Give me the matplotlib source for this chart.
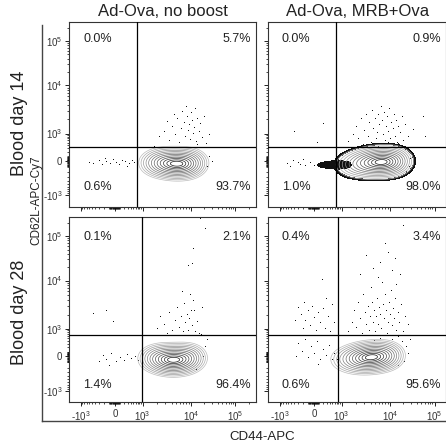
import numpy as np
import matplotlib
matplotlib.use("Agg")
import matplotlib.pyplot as plt
from matplotlib.lines import Line2D
from matplotlib.ticker import FixedLocator, FixedFormatter, NullFormatter

plt.rcParams['font.family'] = ['Liberation Sans', 'DejaVu Sans']
plt.rcParams['mathtext.fontset'] = 'custom'
plt.rcParams['mathtext.rm'] = 'Liberation Sans'
plt.rcParams['mathtext.default'] = 'regular'

# ---- data -------------------------------------------------------------
COLUMNS = ["Ad-Ova, no boost", "Ad-Ova, MRB+Ova"]
ROWS = ["Blood day 14", "Blood day 28"]
XLABEL = "CD44-APC"
YLABEL = "CD62L-APC-Cy7"

MAJOR_VALS = [-1e3, 0, 1e3, 1e4, 1e5]
MAJOR_LABELS = ["-$10^3$", "0", "$10^3$", "$10^4$", "$10^5$"]

# quadrant gates (CD44, CD62L) and frequencies: TL, TR, BL, BR panels
GATE_X = [680, 650, 950, 800]
GATE_Y = [340, 340, 620, 620]
Q_UL = ["0.0%", "0.0%", "0.1%", "0.4%"]
Q_UR = ["5.7%", "0.9%", "2.1%", "3.4%"]
Q_LL = ["0.6%", "1.0%", "1.4%", "0.6%"]
Q_LR = ["93.7%", "98.0%", "96.4%", "95.6%"]

# main population ridge (CD44, CD62L, relative weight)
TL_CORE_X = [1730, 2780, 4460, 7180, 10000]
TL_CORE_Y = [-33, -33, -50, -50, -33]
TL_CORE_W = [0.3, 0.8, 1.0, 0.9, 0.5]
TR_CORE_X = [1360, 2190, 3520, 5660, 9100, 13600]
TR_CORE_Y = [-67, -50, -33, -17, -17, 0]
TR_CORE_W = [0.15, 0.35, 0.7, 1.0, 0.9, 0.5]
BL_CORE_X = [1730, 2780, 4460, 7180, 9540]
BL_CORE_Y = [-33, -50, -67, -50, -17]
BL_CORE_W = [0.35, 0.85, 1.0, 0.7, 0.4]
BR_CORE_X = [890, 1500, 2410, 3870, 6220, 9100]
BR_CORE_Y = [-50, -50, -33, -17, 0, 21]
BR_CORE_W = [0.08, 0.3, 0.75, 1.0, 0.8, 0.45]

# dense tail of events running into the MRB+Ova day 14 population
TR_TAIL_X = [40, 200, 400, 665, 1000, 1360]
TR_TAIL_Y = [-67, -67, -67, -67, -67, -60]
TR_TAIL_W = [0.55, 0.7, 0.85, 1.0, 1.0, 0.9]

# outlying events
TL_DOT_X = [2190, 2780, 3520, 4060, 4680, 5150, 5660, 6220, 6520, 7180,
            7520, 7890, 8280, 8680, 9100, 9540, 10000, 10500, 10900, 11700,
            12300, 12950, 13600, 15100, 15900, 17700, 19600, 21700, 4460, 3200,
            25400, 13600, 25400, 29700, 22800, 1730, 16800,
            -600, -465, -300, -240, -150, -85, -33, 21, 85, 150,
            225, 340, 450, 525, 280, -175]
TL_DOT_Y = [770, 1070, 570, 1360, 890, 1990, 480, 1240, 2780, 1650,
            770, 3520, 2190, 1130, 1500, 615, 2650, 1810, 970, 1300,
            3200, 525, 1990, 1070, 1580, 715, 2190, 450, 2410, 1730,
            890, 410, 85, -17, -100, 340, 300,
            -33, -50, 0, -67, -17, -50, 21, -33, -67, 0,
            -17, -50, 0, -33, -100, 42]

TR_DOT_X = [1360, 1730, 1990, 2190, 2530, 2780, 2910, 3200, 3520, 3690,
            4060, 4260, 4460, 4910, 5150, 5400, 5660, 5930, 6220, 6520,
            6840, 7180, 7520, 7890, 8280, 8680, 9100, 9540, 10000, 10500,
            10900, 11700, 12300, 12950, 13600, 14300, 15100, 16800, 18600, 19600,
            21700, 25400, 32900, 55100, 60600, -410, 200, 60, -640,
            25400, 27800, 26500, 22800, 19600, 15100, 9100, -430, -300, -530, -195,
            3520, 4460, 5660, 7180, 9100, 11700, 15100, 17700,
            -250, -150, -60, 10]
TR_DOT_Y = [525, 890, 1360, 665, 1990, 410, 1130, 2410, 770, 1650,
            480, 2910, 1240, 1990, 665, 1010, 2410, 1500, 450, 3520,
            1810, 890, 2650, 570, 1360, 2190, 1070, 3200, 665, 1650,
            410, 1240, 2410, 770, 1810, 480, 1360, 1010, 2190, 570,
            1500, 770, 1180, 2190, 770, 1070, 1580, 480, -50,
            200, 40, -100, -195, -270, -330, -350, 0, -33, -100, 21,
            375, 450, 340, 410, 480, 375, 450, 340,
            -60, -90, -40, -80]

BL_DOT_X = [10900, 10400, 8680, 6450, 10900, 9900, 15900, 20600, -165, -465,
            -33, 2300, 2780, 3520, 4060, 4680, 5150, 5660, 6220, 6840,
            7180, 7520, 8280, 8680, 9100, 9540, 10500, 11700, 12300, 13600,
            15100, 3200, 1990, 17700, 20600, 18600, 12950, 22800, 16800,
            -220, -150, -67, 21, 100, 200, 280, 410, 570, 715, -300, -100]
BL_DOT_Y = [52400, 24100, 21700, 5800, 3870, 2410, 247000, 147000, 2410, 2090,
            1430, 1780, 1240, 2190, 890, 1500, 2780, 1070, 1810, 770,
            3350, 1360, 1990, 890, 1650, 5150, 1180, 2410, 770, 1430,
            665, 665, 1010, 2780, 200, -17, -240, 410, 615,
            0, -67, 42, -100, -33, -85, 21, -50, -17, -85, -100, -175]

BR_DOT_X = [1360, 1650, 1810, 1990, 2190, 2410, 2650, 2780, 3050, 3200,
            3520, 3690, 3870, 4060, 4260, 4460, 4680, 4910, 5150, 5400,
            5660, 5930, 6220, 6520, 6840, 7180, 7520, 7890, 8280, 8680,
            9100, 9540, 10000, 10500, 10900, 11700, 12300, 12950, 13600, 15100,
            15900, 17700, 19600, 21700, 25400, 13600, 5660,
            19600, 7890, 12950, 9100, 6220, 4460, 3200, 10900, 180, 2410, 16800,
            -300, -240, -175, -150, -100, -67, -33, 0, 42, 85,
            130, 200, 250, 340, 410, 480, 570, -195, -380, 280,
            -300, -220, -165, -100, -50, 0, 60, 130, 200, 280,
            375, 480, 570, 715, -350, 85,
            22800, 25400, 20600, 15100, 27800, 21700,
            6220, 8280, 10900, 15100, 18600, 4680]
BR_DOT_Y = [770, 1360, 2410, 1070, 3520, 1650, 665, 5150, 2190, 1240,
            2910, 890, 1810, 7180, 3520, 1360, 2410, 770, 1810, 4260,
            1240, 2780, 1990, 1010, 9100, 3200, 1650, 5150, 2410, 665,
            1360, 3520, 1990, 6220, 1130, 2650, 1650, 4260, 890, 2190,
            1360, 3200, 770, 1810, 1240, 8280, 11700,
            172000, 67600, 31200, 42500, 25400, 18600, 35000, 16800, 10500, 13600, 13600,
            2780, 1990, 3520, 1500, 2410, 1130, 2910, 1730, 890, 2190,
            1360, 2650, 1010, 1810, 770, 3200, 1360, 1010, 1500, 4260,
            300, 85, 410, -33, 200, 42, 340, -67, 130, 0,
            225, -67, 42, -67, -17, -150,
            200, 40, -100, -175, 410, 570,
            480, 570, 410, 525, 340, 375]

# ---- biexponential display scale --------------------------------------
W_LIN = 300.0
ANCHOR_VAL = np.array([-3000, -1000, 0, 1000, 1e4, 1e5, 1e6])
ANCHOR_DISP = np.array([-7.9, 11.5, 46, 73.5, 122, 166.5, 211])
ANCHOR_S = np.arcsinh(ANCHOR_VAL / W_LIN)


def to_disp(v):
    return np.interp(np.arcsinh(np.asarray(v, float) / W_LIN), ANCHOR_S, ANCHOR_DISP)


def from_disp(d):
    return W_LIN * np.sinh(np.interp(np.asarray(d, float), ANCHOR_DISP, ANCHOR_S))


def kde(xs, ys, ws, gx, gy, hx, hy):
    z = np.zeros_like(gx)
    for a, b, wt in zip(to_disp(xs), to_disp(ys), ws):
        z += wt * np.exp(-0.5 * (((gx - a) / hx) ** 2 + ((gy - b) / hy) ** 2))
    return z


MINOR_VALS = ([-v for v in range(100, 1000, 100)] + [-v for v in range(10, 100, 10)]
              + list(range(10, 100, 10)) + list(range(100, 1000, 100))
              + list(range(2000, 10000, 1000)) + list(range(20000, 100000, 10000)) + [200000])

# ---- figure ---------------------------------------------------------------
W_PX, H_PX = 446, 445
fig = plt.figure(figsize=(W_PX / 100, H_PX / 100), dpi=100)

# panel boxes in pixels: left, top, width, height
boxes = [(69, 21.7, 187, 185), (268, 21.7, 178, 185),
         (69, 216.7, 187, 185.6), (268, 216.7, 178, 185.6)]
cores = [(TL_CORE_X, TL_CORE_Y, TL_CORE_W), (TR_CORE_X, TR_CORE_Y, TR_CORE_W),
         (BL_CORE_X, BL_CORE_Y, BL_CORE_W), (BR_CORE_X, BR_CORE_Y, BR_CORE_W)]
dots = [(TL_DOT_X, TL_DOT_Y), (TR_DOT_X, TR_DOT_Y),
        (BL_DOT_X, BL_DOT_Y), (BR_DOT_X, BR_DOT_Y)]
text_y = [(0.906, 0.106), (0.906, 0.106), (0.892, 0.093), (0.892, 0.093)]

gd = np.linspace(0, 186, 373)
GX, GY = np.meshgrid(gd, gd)
XV, YV = from_disp(GX), from_disp(GY)
n_lev = 12
# evenly spaced rings: level fractions for radii 0.35..2.5 sigma
radii = np.linspace(2.5, 0.35, n_lev)
lev_frac = np.exp(-0.5 * radii ** 2)
line_cols = plt.cm.Greys(np.linspace(0.38, 0.92, n_lev))

for i, (l, t, w, h) in enumerate(boxes):
    ax = fig.add_axes([l / W_PX, 1 - (t + h) / H_PX, w / W_PX, h / H_PX])
    ax.set_xscale('function', functions=(to_disp, from_disp))
    ax.set_yscale('function', functions=(to_disp, from_disp))
    ax.set_xlim(from_disp(0), from_disp(w))
    ax.set_ylim(from_disp(0), from_disp(186))

    dx, dy = dots[i]
    ax.plot(dx, dy, ',', color='#111111', zorder=2)

    cx, cy, cw = cores[i]
    z = kde(cx, cy, cw, GX, GY, 9.0, 7.0)
    zmax = z.max()
    if i == 1:
        # dense outlier rim and tail of the MRB population
        ax.contourf(XV, YV, z, levels=[zmax * 0.028, zmax * lev_frac[0]],
                    colors=['#111111'], zorder=2)
        zt = kde(TR_TAIL_X, TR_TAIL_Y, TR_TAIL_W, GX, GY, 7.0, 3.5)
        ax.contourf(XV, YV, zt, levels=[1.3, zt.max() + 1],
                    colors=['#111111'], zorder=2)
    ax.contour(XV, YV, z, levels=zmax * lev_frac, colors=line_cols,
               linewidths=0.5, zorder=3)

    ax.axvline(GATE_X[i], color='k', lw=0.9, zorder=4)
    ax.axhline(GATE_Y[i], color='k', lw=0.9, zorder=4)

    xl = 14 / w
    xr = (w - 5) / w
    ty, by = text_y[i]
    kw = dict(transform=ax.transAxes, fontsize=9, color='#222222', va='center')
    ax.text(xl, ty, Q_UL[i], ha='left', **kw)
    ax.text(xr, ty, Q_UR[i], ha='right', **kw)
    ax.text(xl, by, Q_LL[i], ha='left', **kw)
    ax.text(xr, by, Q_LR[i], ha='right', **kw)

    for axis in (ax.xaxis, ax.yaxis):
        axis.set_major_locator(FixedLocator(MAJOR_VALS))
        axis.set_minor_locator(FixedLocator(MINOR_VALS))
        axis.set_minor_formatter(NullFormatter())
    if i >= 2:
        ax.xaxis.set_major_formatter(FixedFormatter(MAJOR_LABELS))
    else:
        ax.xaxis.set_major_formatter(NullFormatter())
    if i % 2 == 0:
        ax.yaxis.set_major_formatter(FixedFormatter(MAJOR_LABELS))
    else:
        ax.yaxis.set_major_formatter(NullFormatter())
    ax.tick_params(which='major', direction='out', length=3.2, width=0.6,
                   labelsize=7, pad=1.5, labelcolor='#333333')
    ax.tick_params(which='minor', direction='out', length=1.6, width=0.5)
    for sp in ax.spines.values():
        sp.set_linewidth(0.8)
        sp.set_color('#333333')

# outer bracket frame
fx = 42.3 / W_PX
fig.add_artist(Line2D([fx, fx], [1 - 25 / H_PX, 1 - 420.7 / H_PX],
                      color='#444444', lw=1.0, transform=fig.transFigure))
fig.add_artist(Line2D([fx, 1.0], [1 - 420.7 / H_PX, 1 - 420.7 / H_PX],
                      color='#444444', lw=1.0, transform=fig.transFigure))

fig.text(162.5 / W_PX, 1 - 11.7 / H_PX, COLUMNS[0], ha='center', va='center',
         fontsize=12, color='#222222')
fig.text(358 / W_PX, 1 - 11.7 / H_PX, COLUMNS[1], ha='center', va='center',
         fontsize=12, color='#222222')
fig.text(20 / W_PX, 1 - 123.5 / H_PX, ROWS[0], ha='center', va='center',
         rotation=90, fontsize=13, color='#222222')
fig.text(20 / W_PX, 1 - 312 / H_PX, ROWS[1], ha='center', va='center',
         rotation=90, fontsize=13, color='#222222')
fig.text(36 / W_PX, 1 - 200 / H_PX, YLABEL, ha='center', va='center',
         rotation=90, fontsize=8.5, color='#222222')
fig.text(262 / W_PX, 1 - 437 / H_PX, XLABEL, ha='center', va='center',
         fontsize=9.5, color='#222222')

fig.savefig("out.png", dpi=100, facecolor='white')
